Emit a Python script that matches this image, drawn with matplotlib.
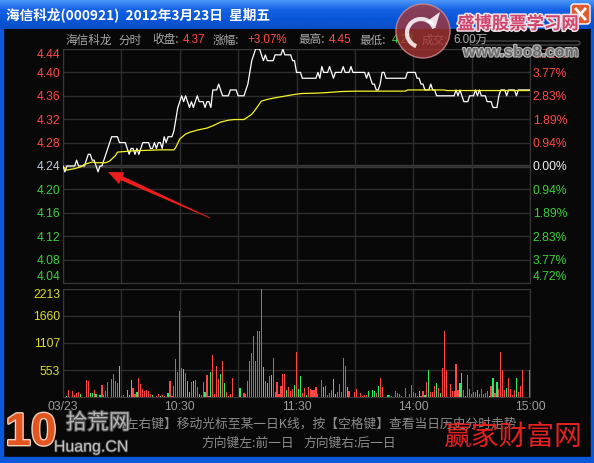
import matplotlib
matplotlib.use('Agg')
import matplotlib.pyplot as plt
import numpy as np
from matplotlib.patches import Rectangle, Circle, Polygon, FancyBboxPatch, Arc
from matplotlib.colors import LinearSegmentedColormap
import matplotlib.patheffects as pe

plt.rcParams['font.family'] = ['Noto Sans CJK SC', 'DejaVu Sans']

# ---------------- data ----------------
prev_close = 4.24
price = [
    4.24, 4.23, 4.24, 4.24, 4.24, 4.24, 4.24, 4.25, 4.24, 4.24,
    4.24, 4.24, 4.25, 4.26, 4.26, 4.25, 4.25, 4.24, 4.23, 4.24,
    4.24, 4.25, 4.26, 4.27, 4.28, 4.29, 4.29, 4.29, 4.29, 4.28,
    4.28, 4.28, 4.28, 4.27, 4.26, 4.27, 4.27, 4.26, 4.27, 4.26,
    4.27, 4.28, 4.28, 4.28, 4.28, 4.27, 4.27, 4.28, 4.27, 4.28,
    4.28, 4.27, 4.29, 4.28, 4.29, 4.29, 4.29, 4.30, 4.32, 4.34,
    4.35, 4.36, 4.35, 4.36, 4.35, 4.34, 4.35, 4.34, 4.35, 4.36,
    4.35, 4.35, 4.35, 4.34, 4.35, 4.35, 4.34, 4.37, 4.37, 4.37,
    4.38, 4.37, 4.36, 4.36, 4.36, 4.36, 4.37, 4.37, 4.37, 4.37,
    4.36, 4.36, 4.36, 4.36, 4.37, 4.38, 4.40, 4.42, 4.43, 4.44,
    4.44, 4.44, 4.43, 4.42, 4.43, 4.42, 4.42, 4.42, 4.42, 4.43,
    4.43, 4.43, 4.43, 4.44, 4.43, 4.43, 4.43, 4.43, 4.42, 4.42,
    4.40, 4.40, 4.40, 4.39, 4.39, 4.39, 4.39, 4.39, 4.39, 4.39,
    4.39, 4.40, 4.39, 4.41, 4.40, 4.40, 4.40, 4.41, 4.40, 4.39,
    4.40, 4.40, 4.40, 4.40, 4.41, 4.40, 4.40, 4.40, 4.41, 4.40,
    4.40, 4.40, 4.40, 4.40, 4.40, 4.40, 4.39, 4.40, 4.39, 4.38,
    4.38, 4.37, 4.37, 4.38, 4.40, 4.40, 4.39, 4.39, 4.39, 4.39,
    4.39, 4.39, 4.39, 4.39, 4.39, 4.39, 4.39, 4.40, 4.40, 4.40,
    4.40, 4.40, 4.39, 4.39, 4.38, 4.38, 4.37, 4.37, 4.37, 4.38,
    4.37, 4.37, 4.36, 4.36, 4.36, 4.36, 4.36, 4.36, 4.36, 4.36,
    4.36, 4.36, 4.37, 4.36, 4.37, 4.36, 4.35, 4.35, 4.35, 4.36,
    4.36, 4.36, 4.37, 4.36, 4.37, 4.36, 4.36, 4.36, 4.35, 4.35,
    4.35, 4.34, 4.34, 4.34, 4.36, 4.37, 4.37, 4.37, 4.36, 4.37,
    4.37, 4.37, 4.37, 4.36, 4.37, 4.37, 4.37, 4.37, 4.37, 4.37,
    4.37,
]
minutes = list(range(len(price)))

avg_min = [0, 2, 6, 9, 11, 15, 17, 22, 24, 27, 28, 34, 38, 41, 50, 57, 58, 60, 63, 65,
           69, 74, 77, 81, 85, 88, 93, 95, 97, 99, 101, 102, 105, 109, 112, 116, 119,
           123, 130, 136, 143, 150, 176, 177, 196, 197, 240]
avg_val = [4.239, 4.233, 4.2355, 4.2383, 4.2428, 4.2468, 4.2456, 4.2456, 4.2485, 4.258,
           4.2637, 4.2654, 4.2665, 4.2665, 4.2676, 4.2676, 4.2721, 4.2862, 4.2946, 4.2975,
           4.3014, 4.3048, 4.3087, 4.315, 4.3183, 4.3194, 4.3194, 4.3239, 4.3284, 4.3369,
           4.3465, 4.351, 4.3538, 4.3566, 4.3583, 4.3606, 4.3623, 4.364, 4.3645, 4.3656,
           4.3673, 4.3679, 4.368, 4.370, 4.370, 4.369, 4.369]

vol_min = [2, 3, 5, 6, 7, 8, 9, 12, 13, 14, 15, 16, 17, 19,
           20, 21, 22, 23, 25, 26, 27, 28, 29, 30, 31, 33, 34, 35, 36, 37, 38, 39,
           40, 41, 42, 43, 44, 45, 46, 48, 49, 50, 51, 52, 54, 55, 56, 57, 58, 59,
           60, 61, 62, 63, 64, 65, 66, 67, 68, 69, 70, 71, 72, 73, 74, 75, 76, 77, 78, 79, 80,
           81, 82, 83, 84, 85, 86, 87, 91, 93, 94, 95, 96, 97, 98, 99, 100, 101, 102, 103,
           104, 105, 106, 107, 108, 109, 110, 111, 112, 113, 114, 115, 116, 117, 118, 119,
           120, 121, 122, 123, 124, 125, 126, 127, 128, 129, 130, 131, 133, 134, 135, 136,
           137, 138, 139, 140, 141, 142, 143, 144, 145, 146, 147, 150, 151, 153, 154, 155,
           156, 157, 159, 160,
           161, 162, 163, 164, 167, 168, 169, 171, 172, 173, 174, 176, 178, 179,
           180, 181, 182, 183, 184, 185, 186, 187, 188, 189, 190, 191, 192, 193, 194, 195,
           196, 197, 199, 200, 201, 202, 203, 204, 205, 206, 207, 208, 209, 210, 211, 212,
           213, 214, 215, 216, 217, 218, 219, 220, 221, 222, 223, 224, 225, 226, 227, 228,
           229, 230, 231, 232, 233, 234, 235, 236, 240]
vol_val = [20, 143, 123, 41, 75, 102, 61, 348, 328, 89, 89, 143, 61, 41,
           246, 41, 123, 307, 369, 471, 328, 287, 635, 27, 41, 143, 41, 348, 184, 61, 102, 389,
           266, 164, 123, 143, 123, 61, 41, 20, 61, 20, 41, 20, 82, 328, 20, 225, 779, 512,
           1762, 594, 574, 492, 328, 102, 307, 328, 348, 205, 61, 41, 307, 102, 451, 20, 512, 861, 61, 635, 369,
           471, 738, 287, 102, 20, 61, 389, 184, 82, 61, 328, 738, 902, 1250, 738, 1352, 1352, 2213, 615,
           328, 287, 430, 451, 799, 102, 307, 61, 225, 471, 471, 143, 205, 123, 164, 246,
           922, 164, 430, 82, 184, 41, 205, 164, 143, 143, 205, 61, 348, 205, 225, 41,
           82, 143, 369, 61, 102, 266, 102, 799, 635, 205, 123, 102, 164, 82, 20, 41,
           41, 123, 143, 123,
           82, 225, 389, 205, 41, 41, 20, 123, 82, 61, 20, 184, 61, 246,
           102, 82, 20, 123, 20, 123, 41, 307, 553, 102, 102, 225, 287, 184, 82, 594,
           1352, 553, 266, 123, 123, 676, 143, 287, 492, 143, 20, 451, 164, 61, 102, 102,
           143, 61, 164, 61, 82, 123, 20, 225, 389, 82, 307, 164, 922, 553, 143, 184,
           389, 164, 41, 143, 389, 102, 225, 553, 553]
vol_up = [0, 1, 1, 1, 1, 1, 0, 1, 1, 0, 0, 1, 0, 0,
          1, 1, 1, 1, 1, 1, 1, 1, 0, 1, 1, 0, 0, 0, 1, 1, 0, 1,
          1, 1, 1, 1, 1, 1, 0, 1, 1, 0, 1, 1, 0, 1, 1, 1, 1, 1,
          1, 1, 0, 1, 0, 0, 1, 0, 1, 1, 0, 1, 1, 0, 1, 1, 0, 1, 1, 1, 1,
          0, 1, 0, 1, 1, 1, 1, 0, 1, 1, 1, 1, 1, 1, 1, 1, 1, 1, 0,
          1, 0, 1, 0, 1, 1, 1, 1, 1, 1, 1, 0, 1, 1, 1, 0,
          1, 0, 0, 1, 1, 0, 1, 1, 1, 1, 1, 1, 1, 0, 1, 1,
          1, 1, 0, 0, 1, 1, 1, 1, 1, 0, 1, 1, 1, 1, 1, 1,
          1, 0, 0, 0,
          1, 0, 1, 1, 0, 1, 1, 1, 1, 1, 1, 1, 1, 1,
          1, 1, 1, 0, 1, 1, 0, 1, 0, 1, 1, 1, 0, 1, 0, 1,
          1, 1, 1, 1, 1, 1, 1, 0, 0, 1, 0, 1, 1, 1, 1, 1,
          0, 1, 1, 1, 1, 1, 0, 1, 0, 1, 0, 1, 1, 1, 1, 0,
          1, 1, 1, 1, 0, 1, 1, 1, 1]

price_ticks = [4.04, 4.08, 4.12, 4.16, 4.20, 4.24, 4.28, 4.32, 4.36, 4.40, 4.44]
price_labels = ['4.04', '4.08', '4.12', '4.16', '4.20', '4.24', '4.28', '4.32', '4.36', '4.40', '4.44']
pct_labels = ['4.72%', '3.77%', '2.83%', '1.89%', '0.94%', '0.00%', '0.94%', '1.89%', '2.83%', '3.77%', '4.72%']
vol_ticks = [553, 1107, 1660, 2213]
vol_labels = ['553', '1107', '1660', '2213']
time_ticks = [0, 30, 60, 90, 120, 150, 180, 210, 240]
time_labels = ['03/23', '', '10:30', '', '11:30', '', '14:00', '', '15:00']

# ---------------- styling ----------------
W, H = 594, 463
BG = '#080808'
GRID = '#2e2e2e'
RED = '#ff4848'
GREEN = '#3cd03c'
NUMFONT = ['Liberation Sans', 'Noto Sans CJK SC', 'DejaVu Sans']
CJK = ['Noto Sans CJK SC', 'DejaVu Sans']

fig = plt.figure(figsize=(W / 100, H / 100), dpi=100)
fig.patch.set_facecolor(BG)

bg = fig.add_axes([0, 0, 1, 1], zorder=0)
bg.axis('off')
cm = LinearSegmentedColormap.from_list('xp', ['#4a96f8', '#1462e4', '#0a56d8', '#0a4fc6'])
bg.imshow(np.linspace(0, 1, 40).reshape(-1, 1), extent=[0, W, 29, 0], aspect='auto', cmap=cm)
bg.set_xlim(0, W)
bg.set_ylim(H, 0)
bg.add_patch(Rectangle((0, 29), 3, H - 29, color='#0b58da'))
bg.add_patch(Rectangle((W - 3, 29), 3, H - 29, color='#0b58da'))
bg.add_patch(Rectangle((0, H - 6), W, 6, color='#0b58da'))
# close button
bg.add_patch(FancyBboxPatch((571, 4), 19, 20, boxstyle='round,pad=0,rounding_size=3',
                            fc='#e05a30', ec='white', lw=1))
bg.plot([576, 585], [9, 19], color='white', lw=2)
bg.plot([585, 576], [9, 19], color='white', lw=2)
bg.text(6, 15, '海信科龙(000921)  2012年3月23日  星期五', color='white', fontsize=9.8,
        fontweight='bold', va='center', ha='left')

# info line
info = [(65, '海信科龙', '#a8a8a8'), (118, '分时', '#a8a8a8'), (152, '收盘:', '#a8a8a8'),
        (183, '4.37', RED), (213, '涨幅:', '#a8a8a8'), (247, '+3.07%', RED),
        (298, '最高:', '#a8a8a8'), (329, '4.45', RED), (359, '最低:', '#a8a8a8'),
        (392, '4.23', GREEN), (422, '成交:', '#a8a8a8'), (453, '6.00万', '#a8a8a8')]
for x, s, c in info:
    fam = NUMFONT if s[0].isdigit() or s[0] == '+' else CJK
    bg.text(x, 40, s, color=c, fontsize=8.4, va='center', ha='left', family=fam)
bg.add_patch(FancyBboxPatch((470, 41), 110, 4, boxstyle='round,pad=0,rounding_size=2',
                            fc='none', ec='#505050', lw=0.8))

# bottom help text
bg.text(114, 424, '【左右键】移动光标至某一日K线，按【空格键】查看当日历史分时走势',
        color='#8c8c8c', fontsize=9.2, va='center', ha='left')
bg.text(201, 443, '方向键左:前一日', color='#8c8c8c', fontsize=9.2, va='center', ha='left')
bg.text(303, 443, '方向键右:后一日', color='#8c8c8c', fontsize=9.2, va='center', ha='left')

# ---------------- price panel ----------------
ax = fig.add_axes([63 / W, 1 - 283 / H, 467 / W, 234 / H], zorder=2)
ax.set_facecolor(BG)
ax.set_xlim(0, 240)
ax.set_ylim(4.04, 4.44)
ax.set_xticks(time_ticks)
ax.set_yticks(price_ticks)
ax.grid(True, color=GRID, lw=1)
ax.axhline(prev_close, color='#3e3e3e', lw=2.4, zorder=1.5)
for s in ax.spines.values():
    s.set_color('#383838')
ax.tick_params(length=0, labelbottom=False, pad=2)
ax.set_yticklabels(price_labels, fontsize=8.7, family=NUMFONT)
ax2 = ax.twinx()
ax2.set_ylim(4.04, 4.44)
ax2.set_yticks(price_ticks)
ax2.set_yticklabels(pct_labels, fontsize=8.7, family=NUMFONT)
ax2.tick_params(length=0, pad=2)
for s in ax2.spines.values():
    s.set_visible(False)
left_labs = ax.get_yticklabels()
right_labs = ax2.get_yticklabels()
for labs, mid_col in ((left_labs, '#c0cad8'), (right_labs, '#f0f0f0')):
    for i, lab in enumerate(labs):
        lab.set_color(GREEN if i < 5 else (mid_col if i == 5 else RED))
    labs[0].set_verticalalignment('bottom')
    labs[-1].set_verticalalignment('top')

ax.plot(minutes, price, color='white', lw=0.9, zorder=3)
ax.plot(avg_min, avg_val, color='#f4f428', lw=0.9, zorder=3)

# ---------------- volume panel ----------------
vx = fig.add_axes([63 / W, 1 - 397 / H, 467 / W, 108 / H], zorder=2)
vx.set_facecolor(BG)
vx.set_xlim(0, 240)
vx.set_ylim(0, 2213)
vx.set_xticks(time_ticks)
vx.set_xticklabels(time_labels, fontsize=8.7, family=NUMFONT, color='#9c9c9c')
vx.set_yticks(vol_ticks)
vx.set_yticklabels(vol_labels, fontsize=8.7, family=NUMFONT, color='#dcdc28')
vx.get_yticklabels()[-1].set_verticalalignment('top')
vx.tick_params(length=0, pad=2)
vx.tick_params(axis='x', pad=3)
vx.grid(True, color=GRID, lw=1)
for s in vx.spines.values():
    s.set_color('#383838')
bar_colors = ['#ff4646' if u else '#22ee66' for u in vol_up]
vx.bar(vol_min, vol_val, width=0.6, color=bar_colors, lw=0, zorder=3, antialiased=False)

# ---------------- overlay watermarks ----------------
ov = fig.add_axes([0, 0, 1, 1], zorder=10)
ov.set_xlim(0, W)
ov.set_ylim(H, 0)
ov.axis('off')
ov.patch.set_alpha(0)

ov.add_patch(Circle((423, 31), 27, fc='#a83434', ec='#d89090', lw=1, alpha=0.78))
ov.add_patch(Arc((421, 33), 28, 28, theta1=110, theta2=340, color='white', lw=3, alpha=0.85))
ov.add_patch(Polygon([(426, 22), (440, 12), (436, 26)], closed=True, fc='white', alpha=0.85))
ov.text(518, 24, '盛博股票学习网', color='#d0446c', fontsize=12.5, fontweight='bold',
        ha='center', va='center',
        path_effects=[pe.withStroke(linewidth=2.2, foreground='#f0e0e8')])
ov.text(521, 52, 'www.sbo8.com', color='#6c6c6c', fontsize=11.5, fontweight='bold',
        ha='center', va='center', family=NUMFONT,
        path_effects=[pe.withStroke(linewidth=1.6, foreground='#b8b8b8')])

tail = np.array([210.0, 218.0])
head = np.array([108.0, 172.0])
d = head - tail
u = d / np.hypot(*d)
n = np.array([-u[1], u[0]])
base = head - u * 15
pts = [tail + n * 0.4, base + n * 2.2, base + n * 6.5, head, base - n * 6.5, base - n * 2.2,
       tail - n * 0.4]
ov.add_patch(Polygon(pts, closed=True, fc='#ea1e1a', ec='none'))

ov.text(31, 433, '10', color='#e2551e', fontsize=33, fontweight='bold', ha='center',
        va='center', family=['Liberation Sans', 'DejaVu Sans'],
        path_effects=[pe.withStroke(linewidth=2, foreground='#f4d0c0')])
ov.text(98, 423, '拾荒网', color='#b4b4b4', fontsize=15.5, ha='center', va='center',
        path_effects=[pe.withStroke(linewidth=1.6, foreground='#4a4a4a')])
ov.text(91, 447, 'Huang.CN', color='#c4c4c4', fontsize=11.5, ha='center', va='center',
        family=NUMFONT, path_effects=[pe.withStroke(linewidth=1.2, foreground='#404040')])
ov.text(513, 437, '赢家财富网', color='#e42020', fontsize=20, ha='center', va='center')

fig.savefig('out.png', dpi=100, facecolor=fig.get_facecolor())
